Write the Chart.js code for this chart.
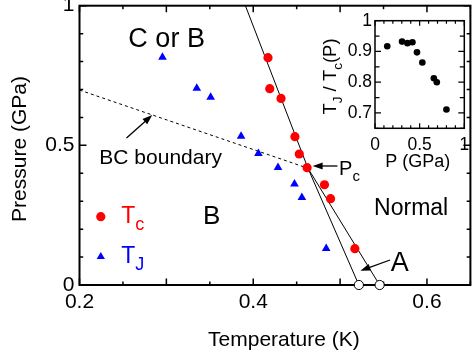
<!DOCTYPE html>
<html>
<head>
<meta charset="utf-8">
<script src="https://cdn.jsdelivr.net/npm/chart.js@4.4.1/dist/chart.umd.min.js"></script>
<style>
  html, body { margin: 0; padding: 0; background: #fff; overflow: hidden; width: 472px; height: 360px; }
  #main { position: absolute; left: 0; top: 0; }
  #inset { position: absolute; left: 300px; top: 0; }
</style>
</head>
<body>
<canvas id="main" width="476" height="360"></canvas>
<canvas id="inset" width="172" height="180"></canvas>
<script>
// Tc (red circles) and TJ (blue triangles): temperature in K, pressure in GPa
const tcTemp = [0.417, 0.419, 0.432, 0.448, 0.453, 0.462, 0.482, 0.489, 0.517];
const tcPres = [0.814, 0.703, 0.668, 0.531, 0.469, 0.420, 0.359, 0.309, 0.130];
const tjTemp = [0.2955, 0.335, 0.351, 0.386, 0.406, 0.4285, 0.4475, 0.456, 0.484];
const tjPres = [0.815, 0.704, 0.672, 0.533, 0.471, 0.421, 0.362, 0.313, 0.131];

// open circles at zero pressure
const zeroTemp = [0.5216, 0.5455];
const zeroPres = [0, 0];

// phase boundaries
const upperTemp = [0.391, 0.463, 0.5216];
const upperPres = [1.0, 0.418, 0];
const lowerTemp = [0.463, 0.5455];
const lowerPres = [0.418, 0];
const bcTemp = [0.2, 0.463];
const bcPres = [0.698, 0.418];

// inset: TJ / Tc(P) against P
const ratioP = [0.137, 0.303, 0.363, 0.419, 0.47, 0.53, 0.659, 0.692, 0.80];
const ratioVal = [0.917, 0.932, 0.927, 0.93, 0.897, 0.864, 0.813, 0.80, 0.711];

// labelled ticks
const xTicks = [0.2, 0.4, 0.6];
const yTicks = [0, 0.5, 1];
const insetXTicks = [0, 0.5, 1];
const insetYTicks = [0.7, 0.8, 0.9, 1];

const FONT = "'Liberation Sans', Arial, Helvetica, sans-serif";
const font = s => s + 'px ' + FONT;
const pts = (xs, ys) => xs.map((x, i) => ({x: x, y: ys[i]}));
const near = (a, b) => Math.abs(a - b) < 1e-6;
const isMult = (v, m) => near(v / m, Math.round(v / m));
const pick = list => v => { const t = list.find(t => near(t, v)); return t === undefined ? '' : String(t); };

function drawRich(ctx, parts, x, y, size, subSize, color, align, rotate) {
  ctx.save();
  ctx.translate(x, y);
  if (rotate) ctx.rotate(-Math.PI / 2);
  ctx.fillStyle = color;
  ctx.textBaseline = 'alphabetic';
  ctx.textAlign = 'left';
  const widths = parts.map(([t, sub]) => { ctx.font = font(sub ? subSize : size); return ctx.measureText(t).width; });
  const total = widths.reduce((a, b) => a + b, 0);
  let cx = align === 'center' ? -total / 2 : 0;
  parts.forEach(([t, sub], i) => {
    ctx.font = font(sub ? subSize : size);
    ctx.fillText(t, cx, sub ? size * 0.3 : 0);
    cx += widths[i];
  });
  ctx.restore();
}

function arrow(ctx, x1, y1, x2, y2) {
  const a = Math.atan2(y2 - y1, x2 - x1), L = 10, W = 3.5;
  const c = Math.cos(a), s = Math.sin(a);
  ctx.beginPath();
  ctx.moveTo(x1, y1);
  ctx.lineTo(x2 - L * 0.7 * c, y2 - L * 0.7 * s);
  ctx.stroke();
  ctx.beginPath();
  ctx.moveTo(x2, y2);
  ctx.lineTo(x2 - L * c + W * s, y2 - L * s - W * c);
  ctx.lineTo(x2 - L * c - W * s, y2 - L * s + W * c);
  ctx.closePath();
  ctx.fill();
}

// box with inward ticks on all four sides, at the scale's own tick values
function drawFrame(chart, o) {
  const {ctx, chartArea: a, scales: {x, y}} = chart;
  ctx.save();
  ctx.strokeStyle = '#000';
  ctx.lineWidth = o.lw;
  ctx.strokeRect(a.left, a.top, a.right - a.left, a.bottom - a.top);
  ctx.lineWidth = o.tw;
  ctx.beginPath();
  x.ticks.forEach(t => {
    const px = x.getPixelForValue(t.value);
    const len = isMult(t.value, o.xMajor) ? o.xLong : o.xShort;
    ctx.moveTo(px, a.bottom); ctx.lineTo(px, a.bottom - len);
    ctx.moveTo(px, a.top); ctx.lineTo(px, a.top + len);
  });
  y.ticks.forEach(t => {
    const py = y.getPixelForValue(t.value);
    const len = isMult(t.value, o.yMajor) ? o.yLong : o.yShort;
    ctx.moveTo(a.left, py); ctx.lineTo(a.left + len, py);
    ctx.moveTo(a.right, py); ctx.lineTo(a.right - len, py);
  });
  ctx.stroke();
  ctx.restore();
}

function fixAxis(prop, size) {
  return s => { s[prop] = size; s.paddingTop = 0; s.paddingBottom = 0; s.paddingLeft = 0; s.paddingRight = 0; };
}

const mainDecor = {
  id: 'mainDecor',
  beforeDatasetsDraw(chart) {
    drawFrame(chart, {lw: 2, tw: 1.5, xMajor: 0.1, xLong: 6.5, xShort: 3.5, yMajor: 0.5, yLong: 7, yShort: 3.7});
  },
  afterDraw(chart) {
    const {ctx, scales: {x, y}} = chart;
    const X = v => x.getPixelForValue(v), Y = v => y.getPixelForValue(v);
    // axis titles
    drawRich(ctx, [['Temperature (K)']], X(0.4353), 346, 21, 21, '#000', 'center');
    drawRich(ctx, [['Pressure (GPa)']], 26, 149, 21, 21, '#000', 'center', true);
    // region labels
    drawRich(ctx, [['C or B']], X(0.3003), Y(0.853), 27, 27, '#000', 'center');
    drawRich(ctx, [['B']], X(0.3521), Y(0.2184), 26, 26, '#000', 'center');
    drawRich(ctx, [['Normal']], X(0.5818), Y(0.2506), 23, 23, '#000', 'center');
    drawRich(ctx, [['A']], X(0.5687), Y(0.0501), 27, 27, '#000', 'center');
    drawRich(ctx, [['BC boundary']], X(0.2934), Y(0.4332), 21, 21, '#000', 'center');
    drawRich(ctx, [['P'], ['c', true]], X(0.4988), Y(0.3938), 20, 15, '#000', 'left');
    // arrows
    ctx.save();
    ctx.strokeStyle = '#000';
    ctx.fillStyle = '#000';
    ctx.lineWidth = 1.3;
    arrow(ctx, X(0.2541), Y(0.5263), X(0.2838), Y(0.6087));
    arrow(ctx, X(0.4969), Y(0.4261), X(0.4684), Y(0.4261));
    arrow(ctx, X(0.5575), Y(0.0895), X(0.5234), Y(0.0512));
    // legend
    ctx.fillStyle = '#ff0000';
    ctx.beginPath();
    ctx.arc(X(0.2245), Y(0.2445), 4.6, 0, Math.PI * 2);
    ctx.fill();
    const tx = X(0.2245), ty = Y(0.1013), r = 4.8;
    ctx.fillStyle = '#0000ff';
    ctx.beginPath();
    ctx.moveTo(tx, ty - r);
    ctx.lineTo(tx + r * Math.sin(Math.PI * 2 / 3), ty + r * 0.5);
    ctx.lineTo(tx - r * Math.sin(Math.PI * 2 / 3), ty + r * 0.5);
    ctx.closePath();
    ctx.fill();
    ctx.restore();
    drawRich(ctx, [['T'], ['c', true]], X(0.2481), Y(0.2209), 23, 18, '#ff0000', 'left');
    drawRich(ctx, [['T'], ['J', true]], X(0.2481), Y(0.0777), 23, 18, '#0000ff', 'left');
  }
};

const lineStyle = {showLine: true, pointRadius: 0, pointHoverRadius: 0, borderColor: '#000', borderWidth: 1, fill: false, order: 3};

new Chart(document.getElementById('main'), {
  type: 'scatter',
  data: {
    datasets: [
      Object.assign({label: 'upper', data: pts(upperTemp, upperPres)}, lineStyle),
      Object.assign({label: 'lower', data: pts(lowerTemp, lowerPres)}, lineStyle),
      Object.assign({label: 'BC boundary', data: pts(bcTemp, bcPres), borderDash: [3, 3]}, lineStyle),
      {label: 'Tc', data: pts(tcTemp, tcPres), pointStyle: 'circle', pointRadius: 4.6,
        backgroundColor: '#ff0000', borderWidth: 0, order: 1},
      {label: 'TJ', data: pts(tjTemp, tjPres), pointStyle: 'triangle', pointRadius: 5,
        backgroundColor: '#0000ff', borderWidth: 0, order: 1},
      {label: 'P=0', data: pts(zeroTemp, zeroPres), pointStyle: 'circle', pointRadius: 4.6,
        backgroundColor: '#ffffff', borderColor: '#000', borderWidth: 1, order: 0, clip: false}
    ]
  },
  options: {
    responsive: false,
    animation: false,
    devicePixelRatio: 1,
    layout: {padding: {top: 5.7, right: 2, left: 0, bottom: 0}},
    plugins: {legend: {display: false}, tooltip: {enabled: false}},
    scales: {
      x: {
        type: 'linear', min: 0.2, max: 0.65,
        grid: {display: false, drawTicks: false},
        border: {display: false},
        afterFit: fixAxis('height', 75),
        ticks: {stepSize: 0.05, autoSkip: false, maxRotation: 0, minRotation: 0, padding: 5,
          color: '#000', font: {family: FONT, size: 21}, callback: pick(xTicks)}
      },
      y: {
        type: 'linear', min: 0, max: 1,
        grid: {display: false, drawTicks: false},
        border: {display: false},
        afterFit: fixAxis('width', 79.5),
        ticks: {stepSize: 0.1, autoSkip: false, padding: 5,
          color: '#000', font: {family: FONT, size: 21}, callback: pick(yTicks)}
      }
    }
  },
  plugins: [mainDecor]
});

const insetDecor = {
  id: 'insetDecor',
  beforeDatasetsDraw(chart) {
    drawFrame(chart, {lw: 1.5, tw: 1.2, xMajor: 0.5, xLong: 5, xShort: 3, yMajor: 0.1, yLong: 6, yShort: 4.5});
  },
  afterDraw(chart) {
    const {ctx, chartArea: a} = chart;
    drawRich(ctx, [['P (GPa)']], (a.left + a.right) / 2 - 2, 167.3, 18, 18, '#000', 'center');
    drawRich(ctx, [['T'], ['J', true], [' / T'], ['c', true], ['(P)']], 36, 76.5, 18.5, 13.5, '#000', 'center', true);
  }
};

new Chart(document.getElementById('inset'), {
  type: 'scatter',
  data: {
    datasets: [
      {label: 'TJ/Tc', data: pts(ratioP, ratioVal), pointStyle: 'circle', pointRadius: 3.3,
        backgroundColor: '#000', borderWidth: 0}
    ]
  },
  options: {
    responsive: false,
    animation: false,
    devicePixelRatio: 1,
    layout: {padding: {top: 20.7, right: 7.7, left: 0, bottom: 0}},
    plugins: {legend: {display: false}, tooltip: {enabled: false}},
    scales: {
      x: {
        type: 'linear', min: 0, max: 1,
        grid: {display: false, drawTicks: false},
        border: {display: false},
        afterFit: fixAxis('height', 51.7),
        ticks: {stepSize: 0.1, autoSkip: false, maxRotation: 0, minRotation: 0, padding: 6,
          color: '#000', font: {family: FONT, size: 17.5}, callback: pick(insetXTicks)}
      },
      y: {
        type: 'linear', min: 0.65, max: 1,
        grid: {display: false, drawTicks: false},
        border: {display: false},
        afterFit: fixAxis('width', 75),
        ticks: {stepSize: 0.05, autoSkip: false, padding: 3,
          color: '#000', font: {family: FONT, size: 17.5}, callback: pick(insetYTicks)}
      }
    }
  },
  plugins: [insetDecor]
});
</script>
</body>
</html>
